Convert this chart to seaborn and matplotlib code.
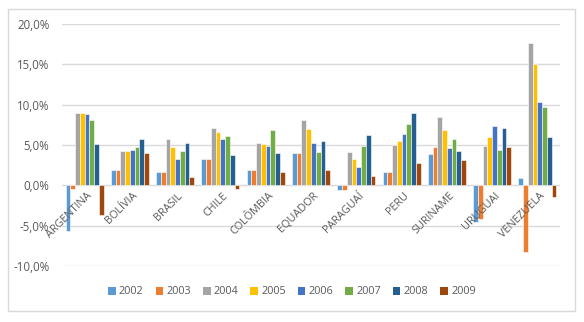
import matplotlib
matplotlib.use("Agg")
import matplotlib.pyplot as plt
import matplotlib.patches as mpatches
import seaborn as sns
import pandas as pd

countries = ["ARGENTINA", "BOLÍVIA", "BRASIL", "CHILE", "COLÔMBIA", "EQUADOR",
             "PARAGUAÍ", "PERU", "SURINAME", "URUGUAI", "VENEZUELA"]
years = ["2002", "2003", "2004", "2005", "2006", "2007", "2008", "2009"]

# growth rates (%) per country, one list per year
g2002 = [-5.7, 1.9, 1.7, 3.3, 1.9, 4.0, -0.6, 1.6, 3.9, -4.6, 0.9]
g2003 = [-0.4, 1.9, 1.7, 3.3, 1.9, 4.0, -0.6, 1.6, 4.7, -4.2, -8.3]
g2004 = [9.0, 4.2, 5.7, 7.1, 5.3, 8.1, 4.1, 5.0, 8.5, 4.9, 17.7]
g2005 = [9.0, 4.3, 4.8, 6.6, 5.1, 7.0, 3.3, 5.5, 6.9, 6.0, 15.1]
g2006 = [8.8, 4.4, 3.3, 5.8, 4.9, 5.2, 2.3, 6.4, 4.6, 7.3, 10.3]
g2007 = [8.1, 4.8, 4.3, 6.1, 6.8, 4.1, 4.9, 7.6, 5.7, 4.4, 9.7]
g2008 = [5.1, 5.8, 5.3, 3.8, 4.0, 5.5, 6.2, 9.0, 4.3, 7.1, 6.0]
g2009 = [-3.7, 4.0, 1.0, -0.5, 1.7, 1.9, 1.2, 2.8, 3.2, 4.8, -1.4]

series = [g2002, g2003, g2004, g2005, g2006, g2007, g2008, g2009]
colors = ["#5B9BD5", "#ED7D31", "#A5A5A5", "#FFC000",
          "#4472C4", "#70AD47", "#255E91", "#9E480E"]

rows = []
for yr, vals in zip(years, series):
    for c, v in zip(countries, vals):
        rows.append({"pais": c, "ano": yr, "valor": v})
df = pd.DataFrame(rows)

sns.set_theme(style="white")
plt.rcParams["font.family"] = ["Open Sans", "DejaVu Sans"]

fig = plt.figure(figsize=(5.84, 3.22), dpi=100)
ax = fig.add_axes([62 / 584, 1 - 266 / 322, (560 - 62) / 584, (266 - 24) / 322])

# outer chart frame
fig.patches.append(mpatches.Rectangle((8 / 584, 1 - 311 / 322), 567 / 584, 302 / 322,
                                      transform=fig.transFigure, fill=False,
                                      edgecolor="#D9D9D9", linewidth=1.0))

sns.barplot(data=df, x="pais", y="valor", hue="ano", order=countries,
            hue_order=years, palette=colors, width=0.84, saturation=1,
            edgecolor="white", linewidth=0.4, ax=ax, legend=False, zorder=3)

ax.set_ylim(-10, 20)
ax.set_xlim(-0.5, len(countries) - 0.5)
ticks = [-10, -5, 0, 5, 10, 15, 20]
ax.set_yticks(ticks)
ax.set_yticklabels([f"{t:.1f}%".replace(".", ",") for t in ticks],
                   color="#595959", fontsize=8.3)
ax.tick_params(axis="y", length=0, pad=9)
ax.yaxis.grid(True, color="#D9D9D9", linewidth=1.0, zorder=0)
ax.set_axisbelow(True)
for s in ax.spines.values():
    s.set_visible(False)
ax.set_xlabel("")
ax.set_ylabel("")
ax.set_xticks([])

# category labels sit at the zero line, rotated 45 degrees
for i, c in enumerate(countries):
    ax.text(i + 0.05, -0.6, c, rotation=45, rotation_mode="anchor",
            ha="right", va="top", fontsize=7.8, color="#595959")

handles = [mpatches.Patch(facecolor=col, edgecolor="none", label=y)
           for y, col in zip(years, colors)]
leg = fig.legend(handles=handles, loc="center", bbox_to_anchor=(0.5, 1 - 292 / 322),
                 ncol=8, frameon=False, fontsize=7.8, handlelength=0.7,
                 handleheight=0.7, handletextpad=0.3, columnspacing=1.1)
for t in leg.get_texts():
    t.set_color("#595959")

fig.savefig("out.png", dpi=100)
